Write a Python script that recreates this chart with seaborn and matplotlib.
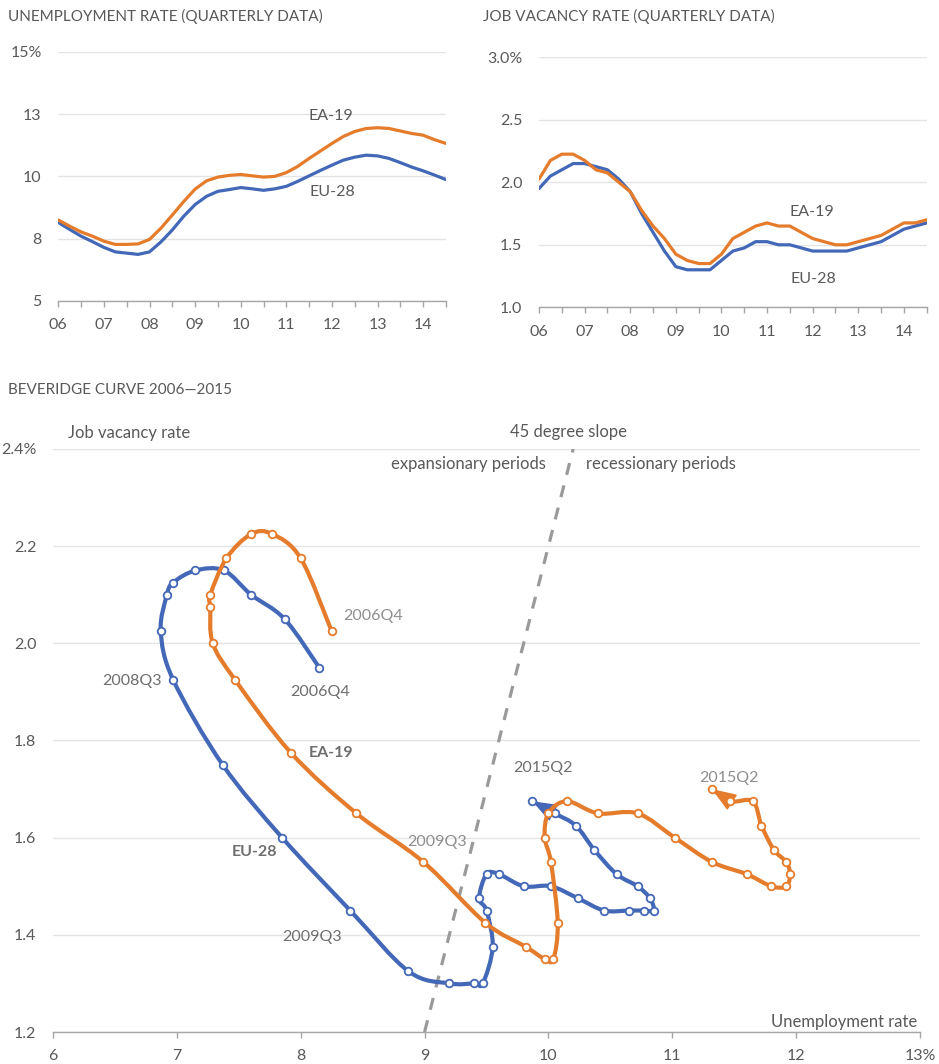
import numpy as np
import pandas as pd
import matplotlib
matplotlib.use("Agg")
import matplotlib.pyplot as plt
import seaborn as sns
from matplotlib.path import Path
from matplotlib.patches import PathPatch

# ---------------------------------------------------------------- data
quarters = [str(p) for p in pd.period_range("2006Q4", "2015Q2", freq="Q")]

# EU-28: unemployment rate (%) and job vacancy rate (%), 2006Q4 .. 2015Q2
eu_unemp = [8.15, 7.87, 7.60, 7.38, 7.15, 6.97, 6.92, 6.87, 6.97, 7.37,
            7.85, 8.40, 8.87, 9.20, 9.40, 9.47, 9.55, 9.50, 9.44, 9.50,
            9.60, 9.80, 10.02, 10.24, 10.45, 10.65, 10.77, 10.85, 10.82, 10.72,
            10.55, 10.37, 10.22, 10.05, 9.87]
eu_vac = [1.95, 2.05, 2.10, 2.15, 2.15, 2.125, 2.10, 2.025, 1.925, 1.75,
          1.60, 1.45, 1.325, 1.30, 1.30, 1.30, 1.375, 1.45, 1.475, 1.525,
          1.525, 1.50, 1.50, 1.475, 1.45, 1.45, 1.45, 1.45, 1.475, 1.50,
          1.525, 1.575, 1.625, 1.65, 1.675]

# EA-19: unemployment rate (%) and job vacancy rate (%), 2006Q4 .. 2015Q2
ea_unemp = [8.25, 8.00, 7.77, 7.60, 7.40, 7.27, 7.27, 7.29, 7.47, 7.92,
            8.45, 8.99, 9.49, 9.82, 9.97, 10.04, 10.075, 10.02, 9.97, 10.00,
            10.15, 10.40, 10.72, 11.02, 11.32, 11.60, 11.80, 11.92, 11.95, 11.92,
            11.82, 11.72, 11.65, 11.47, 11.32]
ea_vac = [2.025, 2.175, 2.225, 2.225, 2.175, 2.10, 2.075, 2.00, 1.925, 1.775,
          1.65, 1.55, 1.425, 1.375, 1.35, 1.35, 1.425, 1.55, 1.60, 1.65,
          1.675, 1.65, 1.65, 1.60, 1.55, 1.525, 1.50, 1.50, 1.525, 1.55,
          1.575, 1.625, 1.675, 1.675, 1.70]

year_labels = ["06", "07", "08", "09", "10", "11", "12", "13", "14"]
unemp_ticks = [5, 7.5, 10, 12.5, 15]
unemp_ticklabels = ["5", "8", "10", "13", "15%"]
vac_ticks = [1.0, 1.5, 2.0, 2.5, 3.0]
vac_ticklabels = ["1.0", "1.5", "2.0", "2.5", "3.0%"]
bev_xticks = [6, 7, 8, 9, 10, 11, 12, 13]
bev_xticklabels = ["6", "7", "8", "9", "10", "11", "12", "13%"]
bev_yticks = [1.2, 1.4, 1.6, 1.8, 2.0, 2.2, 2.4]
bev_yticklabels = ["1.2", "1.4", "1.6", "1.8", "2.0", "2.2", "2.4%"]

# reference line with unit slope through (9, 1.2)
slope_x = [9.0, 10.2]
slope_y = [1.2, 2.4]

# ---------------------------------------------------------------- style
BLUE = "#4468B8"
ORANGE = "#E57C2C"
TXT = "#595959"
TXT_MID = "#6E6E6E"
TXT_LIGHT = "#8E8E8E"
GRID = "#E4E4E4"
AXIS = "#A6A6A6"
FS_TICK = 11.5
FS_BODY = 12
FS_TITLE = 11
FS_LABEL = 11.5

sns.set_style("white")
plt.rcParams["font.family"] = ["Lato", "DejaVu Sans"]

W, H = 939, 1064
fig = plt.figure(figsize=(W / 100, H / 100), dpi=100)


def fx(x):
    return x / W


def fy(y):
    return 1 - y / H


def ftext(x, y, s, ha="left", color=TXT, size=FS_BODY, weight="normal"):
    fig.text(fx(x), fy(y), s, ha=ha, va="center", color=color,
             fontsize=size, fontweight=weight)


def style_axis(ax):
    for side in ("left", "right", "top"):
        ax.spines[side].set_visible(False)
    ax.spines["bottom"].set_color(AXIS)
    ax.spines["bottom"].set_linewidth(1.0)
    ax.yaxis.grid(True, color=GRID, lw=1.0)
    ax.xaxis.grid(False)
    ax.set_axisbelow(True)
    ax.tick_params(axis="y", length=0, pad=12, labelsize=FS_TICK, labelcolor=TXT)
    ax.tick_params(axis="x", which="both", direction="out", length=4.5,
                   width=1.0, color=AXIS, pad=8, labelsize=FS_TICK,
                   labelcolor=TXT, bottom=True)
    ax.set_xlabel("")
    ax.set_ylabel("")


# ---------------------------------------------------------------- time series panels
qidx = np.arange(len(quarters))
ts = pd.DataFrame({
    "q": np.concatenate([qidx, qidx]),
    "area": ["EU-28"] * len(qidx) + ["EA-19"] * len(qidx),
    "unemp": eu_unemp + ea_unemp,
    "vac": eu_vac + ea_vac,
})
palette = {"EU-28": BLUE, "EA-19": ORANGE}

ax_u = fig.add_axes([fx(58.3), fy(301), (446 - 58.3) / W, (301 - 51.7) / H])
ax_v = fig.add_axes([fx(539), fy(307.3), (926.7 - 539) / W, (307.3 - 57.3) / H])

for ax, col, ticks, labels, lim in (
    (ax_u, "unemp", unemp_ticks, unemp_ticklabels, (5, 15)),
    (ax_v, "vac", vac_ticks, vac_ticklabels, (1.0, 3.0)),
):
    sns.lineplot(data=ts, x="q", y=col, hue="area", palette=palette,
                 hue_order=["EU-28", "EA-19"], lw=2.3, legend=False, ax=ax)
    ax.set_xlim(0, len(quarters) - 1)
    ax.set_ylim(*lim)
    ax.set_yticks(ticks)
    ax.set_yticklabels(labels)
    ax.set_xticks(np.arange(0, len(quarters), 4))
    ax.set_xticklabels(year_labels)
    ax.set_xticks(np.arange(2, len(quarters), 4), minor=True)
    style_axis(ax)

ftext(8, 16, "UNEMPLOYMENT RATE (QUARTERLY DATA)", size=FS_TITLE)
ftext(483, 16, "JOB VACANCY RATE (QUARTERLY DATA)", size=FS_TITLE)
ftext(331, 116, "EA-19", ha="center", size=FS_LABEL)
ftext(332, 192, "EU-28", ha="center", size=FS_LABEL)
ftext(812, 212, "EA-19", ha="center", size=FS_LABEL)
ftext(813, 279, "EU-28", ha="center", size=FS_LABEL)

# ---------------------------------------------------------------- Beveridge curve
ax_b = fig.add_axes([fx(53), fy(1032), (920 - 53) / W, (1032 - 449) / H])
ax_b.set_xlim(6, 13)
ax_b.set_ylim(1.2, 2.4)
ax_b.set_xticks(bev_xticks)
ax_b.set_xticklabels(bev_xticklabels)
ax_b.set_yticks(bev_yticks)
ax_b.set_yticklabels(bev_yticklabels)
style_axis(ax_b)

ax_b.plot(slope_x, slope_y, color="#9A9A9A", lw=2.3,
          linestyle=(0, (3.8, 3.4)), zorder=2)


def smooth_path(xs, ys):
    """Cubic Bezier path through the points (Catmull-Rom tangents)."""
    pts = np.column_stack([xs, ys]).astype(float)
    ext = np.vstack([pts[0], pts, pts[-1]])
    verts = [pts[0]]
    codes = [Path.MOVETO]
    for i in range(1, len(ext) - 2):
        p0, p1, p2, p3 = ext[i - 1], ext[i], ext[i + 1], ext[i + 2]
        verts += [p1 + (p2 - p0) / 6, p2 - (p3 - p1) / 6, p2]
        codes += [Path.CURVE4] * 3
    return Path(verts, codes)


for xs, ys, color, z in ((eu_unemp, eu_vac, BLUE, 3), (ea_unemp, ea_vac, ORANGE, 5)):
    ax_b.add_patch(PathPatch(smooth_path(xs, ys), facecolor="none",
                             edgecolor=color, lw=3.0, capstyle="round",
                             joinstyle="round", zorder=z))
    ax_b.annotate("", xy=(xs[-1], ys[-1]), xytext=(xs[-2], ys[-2]),
                  arrowprops=dict(arrowstyle="-|>,head_length=1.2,head_width=0.45",
                                  mutation_scale=13, color=color, lw=1.0,
                                  shrinkA=0, shrinkB=0),
                  zorder=z)
    sns.scatterplot(x=xs, y=ys, ax=ax_b, color="white", edgecolor=color,
                    s=30, linewidth=1.3, zorder=z + 0.5, legend=False)

ftext(8, 390, "BEVERIDGE CURVE 2006\u20142015", size=FS_TITLE)
ftext(68, 433, "Job vacancy rate")
ftext(568, 432, "45 degree slope", ha="center")
ftext(546, 464, "expansionary periods", ha="right")
ftext(586, 464, "recessionary periods")
ftext(917, 1022, "Unemployment rate", ha="right")

ftext(343, 616, quarters[0], color=TXT_LIGHT, size=FS_LABEL)
ftext(290, 692, quarters[0], color=TXT_MID, size=FS_LABEL)
ftext(102, 681, quarters[7], color=TXT_MID, size=FS_LABEL)
ftext(309, 753, "EA-19", color=TXT_MID, weight="bold", size=FS_LABEL)
ftext(232, 852, "EU-28", color=TXT_MID, weight="bold", size=FS_LABEL)
ftext(407, 842, quarters[11], color=TXT_LIGHT, size=FS_LABEL)
ftext(282, 937, quarters[11], color=TXT_MID, size=FS_LABEL)
ftext(513, 768, quarters[-1], color=TXT_MID, size=FS_LABEL)
ftext(699, 778, quarters[-1], color=TXT_LIGHT, size=FS_LABEL)

fig.savefig("out.png", dpi=100)
